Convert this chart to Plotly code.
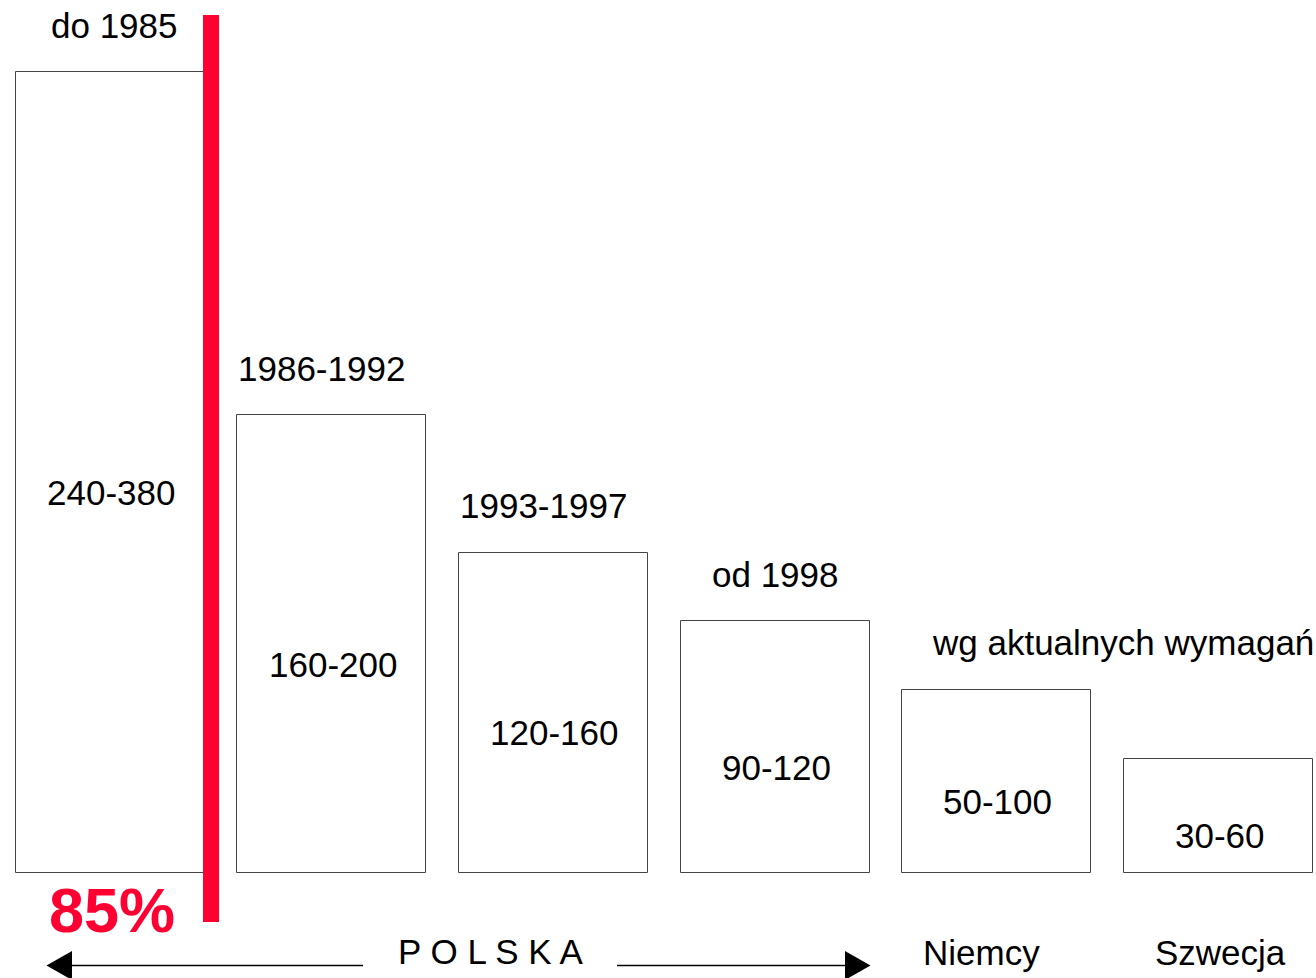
import plotly.graph_objects as go

# ---- data ----
periods = ["do 1985", "1986-1992", "1993-1997", "od 1998", "Niemcy", "Szwecja"]
bar_heights = [350, 200, 140, 110, 80, 50]
range_labels = ["240-380", "160-200", "120-160", "90-120", "50-100", "30-60"]
top_labels = ["do 1985", "1986-1992", "1993-1997", "od 1998"]
group_label = "wg aktualnych wymagań"
country_labels = ["Niemcy", "Szwecja"]
polska_label = "P O L S K A"
share_label = "85%"

W, H = 1316, 978
FONT = "Liberation Sans, Arial, sans-serif"
RED = "#FF0033"
FS = 35

def px(x):
    return x / W

def py(y):
    return 1 - y / H

xs = list(range(len(bar_heights)))

fig = go.Figure()
fig.add_trace(go.Bar(
    x=xs, y=bar_heights, width=0.852,
    marker=dict(color="white", line=dict(color="#444444", width=1)),
    hoverinfo="skip", showlegend=False,
))

C = dict(xanchor="center", yanchor="middle", showarrow=False)
ann = []
# labels inside bars
for i, (v, t) in enumerate(zip(bar_heights, range_labels)):
    ann.append(dict(x=i, y=v / 2, xref="x", yref="y", text=t,
                    yshift=-20, xshift=1, font=dict(family=FONT, size=FS, color="black"), **C))
# labels above bars
top_shift = [4, -10, -10, 0]
for i, t in enumerate(top_labels):
    ann.append(dict(x=i, y=bar_heights[i], xref="x", yref="y", text=t,
                    yshift=47, xshift=top_shift[i],
                    font=dict(family=FONT, size=FS, color="black"), **C))
ann.append(dict(x=4.5, y=bar_heights[4], xref="x", yref="y", text=group_label,
                yshift=47, xshift=15,
                font=dict(family=FONT, size=FS, color="black"), **C))
# country labels
for i, (t, s) in enumerate(zip(country_labels, [-15, 2])):
    ann.append(dict(x=4 + i, y=py(952), xref="x", yref="paper", text=t,
                    xshift=s, font=dict(family=FONT, size=FS, color="black"), **C))
ann.append(dict(x=px(490), y=py(951), xref="paper", yref="paper", text=polska_label,
                font=dict(family=FONT, size=FS, color="black"), **C))
ann.append(dict(x=px(112), y=py(910), xref="paper", yref="paper",
                text="<b>%s</b>" % share_label,
                font=dict(family=FONT, size=63, color=RED), **C))

shapes = [
    # red divider
    dict(type="rect", xref="paper", yref="paper", x0=px(203), x1=px(219),
         y0=py(922), y1=py(15), fillcolor=RED, line=dict(width=0), layer="above"),
    # arrow lines
    dict(type="line", xref="paper", yref="paper", x0=px(70), x1=px(363),
         y0=py(965.5), y1=py(965.5), line=dict(color="black", width=1.5)),
    dict(type="line", xref="paper", yref="paper", x0=px(617), x1=px(847),
         y0=py(965.5), y1=py(965.5), line=dict(color="black", width=1.5)),
    # arrow heads
    dict(type="path", xref="paper", yref="paper",
         path="M %f,%f L %f,%f L %f,%f Z" % (px(46.5), py(965.5), px(72), py(951), px(72), py(980)),
         fillcolor="black", line=dict(width=0)),
    dict(type="path", xref="paper", yref="paper",
         path="M %f,%f L %f,%f L %f,%f Z" % (px(870.5), py(965.5), px(845), py(951), px(845), py(980)),
         fillcolor="black", line=dict(width=0)),
]

x0 = -110 / 221.7
x1 = (W - 110) / 221.7
scale = 801 / 350.0
y0 = -(H - 873) / scale
y1 = 873 / scale

fig.update_layout(
    width=W, height=H, margin=dict(l=0, r=0, t=0, b=0),
    paper_bgcolor="white", plot_bgcolor="white",
    xaxis=dict(range=[x0, x1], visible=False, fixedrange=True),
    yaxis=dict(range=[y0, y1], visible=False, fixedrange=True),
    annotations=ann, shapes=shapes, bargap=0,
)

fig.write_html("out.html", config={"displayModeBar": False},
               post_script="document.body.style.margin='0';document.body.style.overflow='hidden';")
